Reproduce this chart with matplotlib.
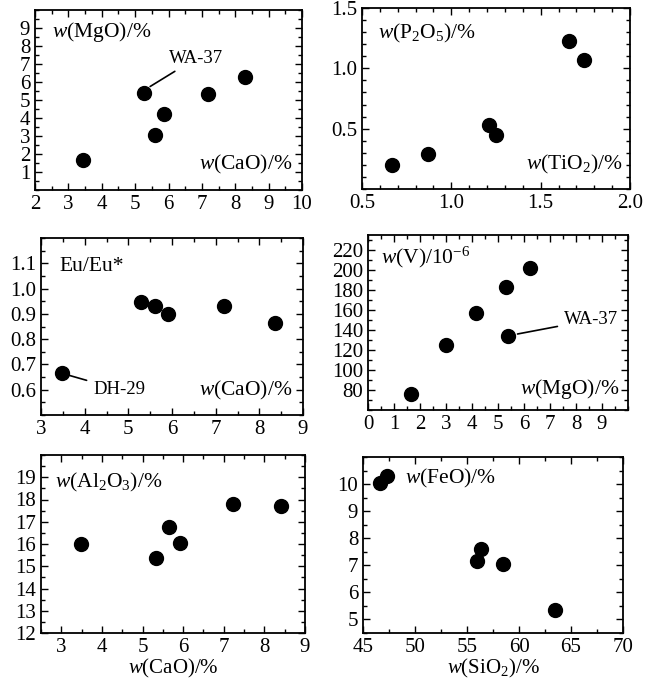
import matplotlib
matplotlib.use("Agg")
import matplotlib.pyplot as plt
from matplotlib.ticker import MultipleLocator

plt.rcParams['font.family'] = ['Liberation Serif', 'DejaVu Serif']
plt.rcParams['mathtext.fontset'] = 'custom'
plt.rcParams['mathtext.rm'] = 'Liberation Serif'
plt.rcParams['mathtext.it'] = 'Liberation Serif:italic'

# Panel data
cao_1 = [3.43, 5.27, 5.60, 5.87, 7.18, 8.29]
mgo_1 = [1.69, 5.41, 3.04, 4.24, 5.35, 6.28]

tio2_2 = [0.67, 0.87, 1.21, 1.25, 1.66, 1.74]
p2o5_2 = [0.20, 0.29, 0.53, 0.45, 1.23, 1.07]

cao_3 = [3.48, 5.30, 5.62, 5.90, 7.20, 8.35]
eu_3 = [0.668, 0.948, 0.930, 0.900, 0.930, 0.865]

mgo_4 = [1.65, 3.00, 4.17, 5.32, 5.38, 6.22]
v_4 = [76, 125, 157, 183, 134, 202]

cao_5 = [3.48, 5.32, 5.65, 5.93, 7.22, 8.40]
al_5 = [16.0, 15.37, 16.75, 16.05, 17.80, 17.72]

sio2_6 = [46.6, 47.3, 56.0, 56.3, 58.5, 63.5]
feo_6 = [10.05, 10.28, 7.15, 7.6, 7.05, 5.35]

W, H = 650, 679
fig = plt.figure(figsize=(W / 100, H / 100), dpi=100)


def add_ax(l, r, t, b):
    return fig.add_axes([l / W, (H - b) / H, (r - l) / W, (b - t) / H])


def style(ax, xmaj, xmin, ymaj, ymin):
    ax.xaxis.set_major_locator(MultipleLocator(xmaj))
    ax.xaxis.set_minor_locator(MultipleLocator(xmin))
    ax.yaxis.set_major_locator(MultipleLocator(ymaj))
    ax.yaxis.set_minor_locator(MultipleLocator(ymin))
    ax.tick_params(which='both', direction='in', top=True, right=True,
                   labelsize=15, pad=3.5, width=1.0)
    ax.tick_params(which='major', length=5)
    ax.tick_params(which='minor', length=3)
    for s in ax.spines.values():
        s.set_linewidth(1.3)


MS = 100
FS = 15.5
AFS = 13.5

# Panel 1
ax1 = add_ax(35, 302, 10, 190)
ax1.scatter(cao_1, mgo_1, s=MS, c='black', zorder=3)
ax1.set_xlim(2, 10)
ax1.set_ylim(0, 10)
style(ax1, 1, 0.5, 1, 0.5)
ax1.set_yticks(range(1, 10))
ax1.text(2.5, 8.8, r'$\mathit{w}$(MgO)/%', fontsize=FS, va='center', ha='left')
ax1.text(9.7, 1.4, r'$\mathit{w}$(CaO)/%', fontsize=FS, va='center', ha='right')
ax1.annotate('WA-37', xy=(5.45, 5.75), xytext=(6.0, 7.3), fontsize=AFS,
             va='center', ha='left',
             arrowprops=dict(arrowstyle='-', color='black', lw=1.2, shrinkA=2, shrinkB=0))

# Panel 2
ax2 = add_ax(362, 630, 8, 189)
ax2.scatter(tio2_2, p2o5_2, s=MS, c='black', zorder=3)
ax2.set_xlim(0.5, 2.0)
ax2.set_ylim(0, 1.5)
style(ax2, 0.5, 0.1, 0.5, 0.1)
ax2.set_yticks([0.5, 1.0, 1.5])
ax2.xaxis.set_major_formatter(plt.FormatStrFormatter('%.1f'))
ax2.yaxis.set_major_formatter(plt.FormatStrFormatter('%.1f'))
ax2.text(0.59, 1.29, r'$\mathit{w}$(P$_2$O$_5$)/%', fontsize=FS, va='center', ha='left')
ax2.text(1.96, 0.2, r'$\mathit{w}$(TiO$_2$)/%', fontsize=FS, va='center', ha='right')

# Panel 3
ax3 = add_ax(41, 303, 238, 415)
ax3.scatter(cao_3, eu_3, s=MS, c='black', zorder=3)
ax3.set_xlim(3, 9)
ax3.set_ylim(0.5, 1.2)
style(ax3, 1, 0.5, 0.1, 0.05)
ax3.set_yticks([0.6, 0.7, 0.8, 0.9, 1.0, 1.1])
ax3.yaxis.set_major_formatter(plt.FormatStrFormatter('%.1f'))
ax3.text(3.42, 1.087, 'Eu/Eu*', fontsize=FS, va='center', ha='left')
ax3.text(8.75, 0.596, r'$\mathit{w}$(CaO)/%', fontsize=FS, va='center', ha='right')
ax3.annotate('DH-29', xy=(3.62, 0.658), xytext=(4.2, 0.6), fontsize=AFS,
             va='center', ha='left',
             arrowprops=dict(arrowstyle='-', color='black', lw=1.2, shrinkA=3, shrinkB=0))

# Panel 4
ax4 = add_ax(368, 628, 235, 410)
ax4.scatter(mgo_4, v_4, s=MS, c='black', zorder=3)
ax4.set_xlim(0, 10)
ax4.set_ylim(60, 235)
style(ax4, 1, 0.5, 20, 10)
ax4.set_xticks(range(0, 10))
ax4.set_yticks(range(80, 221, 20))
ax4.text(0.5, 213, r'$\mathit{w}$(V)/10$^{-6}$', fontsize=FS, va='center', ha='left')
ax4.text(9.65, 81, r'$\mathit{w}$(MgO)/%', fontsize=FS, va='center', ha='right')
ax4.annotate('WA-37', xy=(5.75, 136), xytext=(7.55, 150), fontsize=AFS,
             va='center', ha='left',
             arrowprops=dict(arrowstyle='-', color='black', lw=1.2, shrinkA=3, shrinkB=0))

# Panel 5
ax5 = add_ax(41, 305, 455, 633)
ax5.scatter(cao_5, al_5, s=MS, c='black', zorder=3)
ax5.set_xlim(2.5, 9)
ax5.set_ylim(12, 20)
style(ax5, 1, 0.5, 1, 0.5)
ax5.set_xticks(range(3, 10))
ax5.set_yticks(range(12, 20))
ax5.text(2.84, 18.78, r'$\mathit{w}$(Al$_2$O$_3$)/%', fontsize=FS, va='center', ha='left')
ax5.set_xlabel(r'$\mathit{w}$(CaO)/%', fontsize=15, labelpad=0)

# Panel 6
ax6 = add_ax(363, 623, 457, 633)
ax6.scatter(sio2_6, feo_6, s=MS, c='black', zorder=3)
ax6.set_xlim(45, 70)
ax6.set_ylim(4.5, 11)
style(ax6, 5, 2.5, 1, 0.5)
ax6.set_yticks(range(5, 11))
ax6.text(49.0, 10.2, r'$\mathit{w}$(FeO)/%', fontsize=FS, va='center', ha='left')
ax6.set_xlabel(r'$\mathit{w}$(SiO$_2$)/%', fontsize=15, labelpad=0)

fig.savefig('out.png', dpi=100, facecolor='white')
